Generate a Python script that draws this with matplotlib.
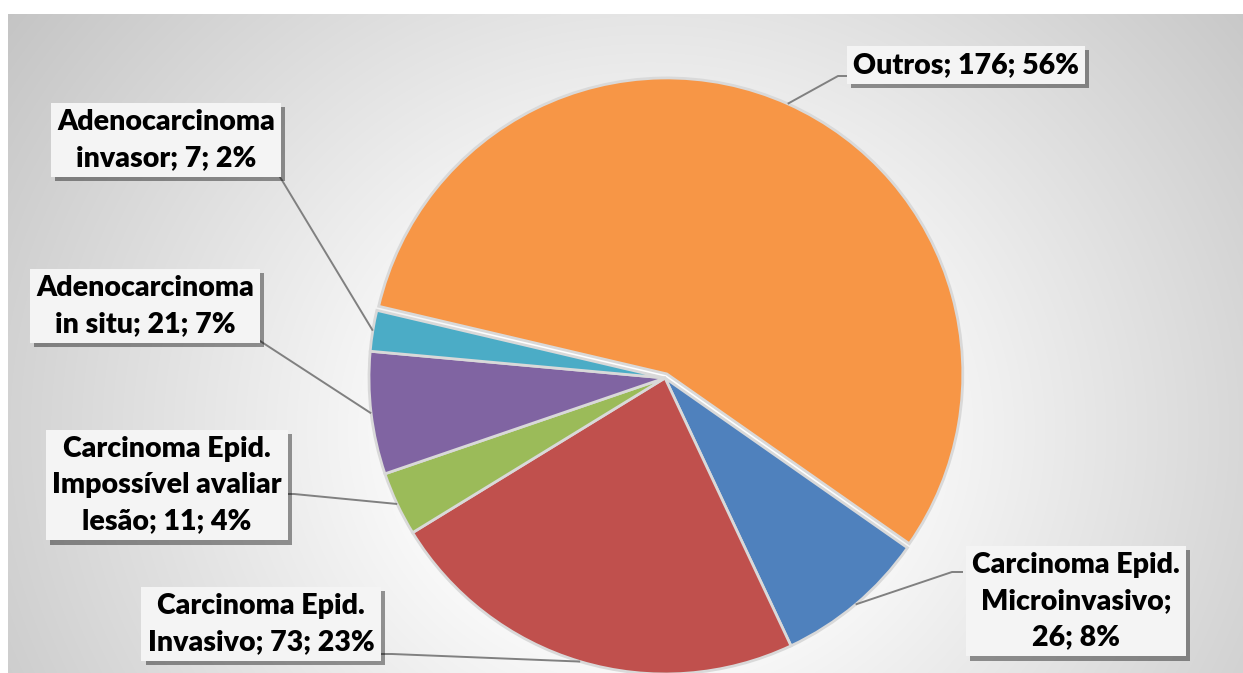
import numpy as np
import matplotlib.pyplot as plt
from matplotlib import patheffects as pe

# ---- data ----
categories = ["Carcinoma Epid. Microinvasivo", "Carcinoma Epid. Invasivo",
              "Carcinoma Epid. Impossível avaliar lesão", "Adenocarcinoma in situ",
              "Adenocarcinoma invasor", "Outros"]
values = [26, 73, 11, 21, 7, 176]
percents = [8, 23, 4, 7, 2, 56]
label_texts = ["Carcinoma Epid.\nMicroinvasivo;\n26; 8%",
               "Carcinoma Epid.\nInvasivo; 73; 23%",
               "Carcinoma Epid.\nImpossível avaliar\nlesão; 11; 4%",
               "Adenocarcinoma\nin situ; 21; 7%",
               "Adenocarcinoma\ninvasor; 7; 2%",
               "Outros; 176; 56%"]
colors = ["#4F81BD", "#C0504D", "#9BBB59", "#8064A2", "#4BACC6", "#F79646"]

# ---- layout (pixels) ----
W, H = 1243, 673
CX, CY, R = 665, 378, 296
# label box centres and leader start/stub points (pixel coords)
label_centres = [(1076, 601), (261, 624), (167, 485), (145, 306), (166, 140), (966, 65)]
leader_starts = [((963, 572), (952, 572)), ((380, 654), (392, 654)),
                 ((282, 494), (294, 494)), ((245, 339), (257, 339)),
                 ((264, 172), (277, 172)), ((848, 76), (838, 76))]

def px(x, y):
    return ((x - CX) / R, (CY - y) / R)

fig = plt.figure(figsize=(W / 100, H / 100), dpi=100)
fig.patch.set_facecolor("white")

# background radial gradient (chart area)
x0, y0 = 8, 14
ax_bg = fig.add_axes([x0 / W, 0, 1 - x0 / W, (H - y0) / H])
yy, xx = np.mgrid[y0:H, x0:W]
d = np.hypot(xx - 650, (yy - 430) * 1.1)
v = 1.0 - 0.23 * np.clip((d - 190) / 600, 0, 1)
ax_bg.imshow(np.dstack([v, v, v]), aspect="auto", interpolation="bilinear")
ax_bg.set_axis_off()

ax = fig.add_axes([0, 0, 1, 1])
ax.patch.set_alpha(0)
wedges, _ = ax.pie(values, colors=colors, startangle=-35, counterclock=False,
                   radius=1, center=(0, 0), explode=[0, 0, 0, 0, 0, 0.015],
                   wedgeprops=dict(edgecolor="#d9d9d9", linewidth=2.0))
ax.set_xlim(-CX / R, (W - CX) / R)
ax.set_ylim(-(H - CY) / R, CY / R)
ax.set_aspect("auto")
ax.set_axis_off()

for w, txt, c, (s0, s1) in zip(wedges, label_texts, label_centres, leader_starts):
    mid = np.deg2rad((w.theta1 + w.theta2) / 2)
    ex = w.center[0] + w.r * np.cos(mid)
    ey = w.center[1] + w.r * np.sin(mid)
    a = px(*s0)
    b = px(*s1)
    ax.plot([a[0], b[0], ex], [a[1], b[1], ey], color="#808080", lw=1.4, zorder=3,
            solid_capstyle="butt")
    t = ax.text(*px(*c), txt, ha="center", va="center", multialignment="center",
                fontsize=20.5, fontweight="heavy", family=["Lato", "DejaVu Sans"],
                linespacing=1.48, color="black", zorder=5,
                bbox=dict(boxstyle="square,pad=0.22", fc="#f4f4f4", ec="none"))
    t.get_bbox_patch().set_path_effects(
        [pe.SimplePatchShadow(offset=(3, -3), shadow_rgbFace="black", alpha=0.4),
         pe.Normal()])

fig.savefig("out.png", dpi=100)
